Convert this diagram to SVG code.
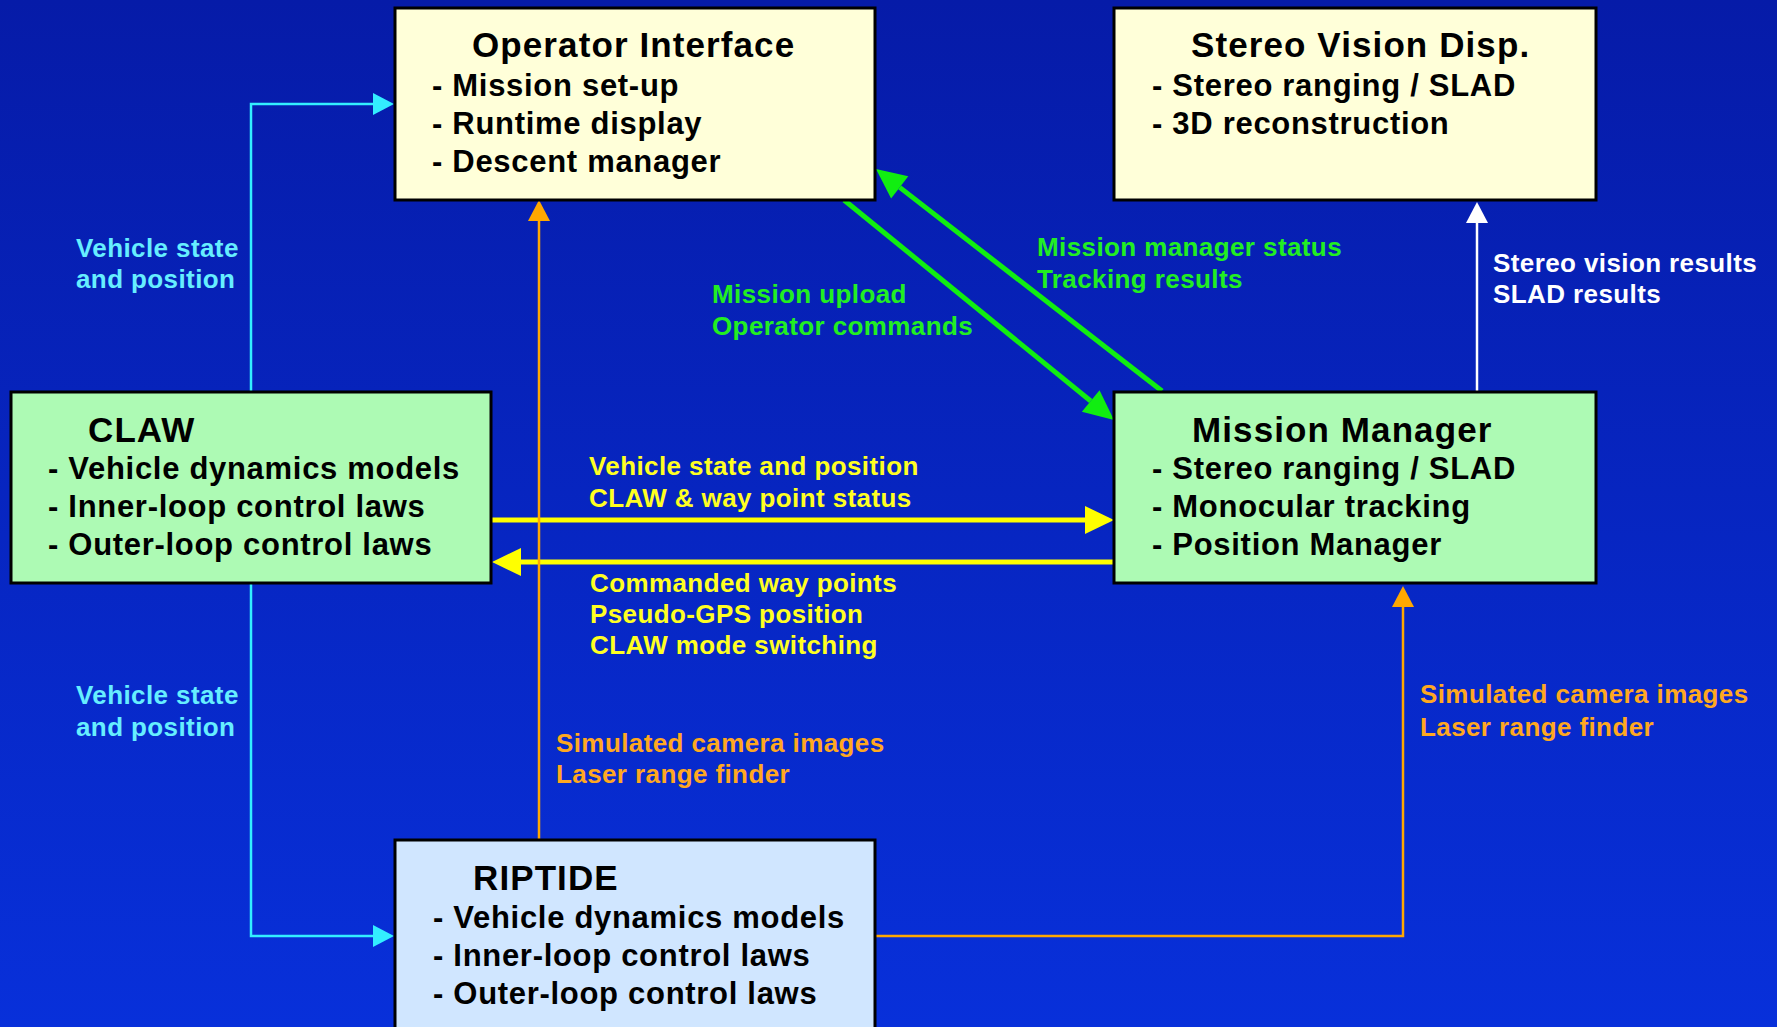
<svg xmlns="http://www.w3.org/2000/svg" width="1777" height="1027" viewBox="0 0 1777 1027">
<defs>
<linearGradient id="bg" x1="0" y1="0" x2="0" y2="1">
<stop offset="0" stop-color="#061BA8"/>
<stop offset="1" stop-color="#0830DA"/>
</linearGradient>
<marker id="mY" markerUnits="userSpaceOnUse" markerWidth="32" markerHeight="32" refX="0" refY="0" orient="auto" overflow="visible"><path d="M0,-14 L29,0 L0,14 z" fill="#FFFF00"/></marker>
<marker id="mG" markerUnits="userSpaceOnUse" markerWidth="32" markerHeight="32" refX="0" refY="0" orient="auto" overflow="visible"><path d="M0,-14 L30,0 L0,14 z" fill="#11EE11"/></marker>
<marker id="mC" markerUnits="userSpaceOnUse" markerWidth="24" markerHeight="24" refX="0" refY="0" orient="auto" overflow="visible"><path d="M0,-11 L21,0 L0,11 z" fill="#33EEFF"/></marker>
<marker id="mO" markerUnits="userSpaceOnUse" markerWidth="24" markerHeight="24" refX="0" refY="0" orient="auto" overflow="visible"><path d="M0,-11 L21,0 L0,11 z" fill="#FFA800"/></marker>
<marker id="mW" markerUnits="userSpaceOnUse" markerWidth="24" markerHeight="24" refX="0" refY="0" orient="auto" overflow="visible"><path d="M0,-11 L21,0 L0,11 z" fill="#FFFFFF"/></marker>
</defs>
<style>
text{font-family:"Liberation Sans",Arial,Helvetica,sans-serif;font-weight:bold}
.box{stroke:#000;stroke-width:3}
.cream{fill:#FFFFD9}
.green{fill:#ADFAB4}
.blue{fill:#D0E6FF}
.title{font-size:35px;letter-spacing:1.1px;fill:#000}
.item{font-size:31px;letter-spacing:0.7px;fill:#000}
.lbl{font-size:26px;letter-spacing:0.4px}
.lc{fill:#66EEFF}
.ly{fill:#FFFF22}
.lg{fill:#22EE22}
.lo{fill:#FFA820}
.lw{fill:#FFFFFF}
.cc{fill:none;stroke:#33EEFF;stroke-width:2.5}
.cy{fill:none;stroke:#FFFF00;stroke-width:5}
.cg{fill:none;stroke:#11EE11;stroke-width:5}
.co{fill:none;stroke:#FFA800;stroke-width:2.5}
.cw{fill:none;stroke:#FFFFFF;stroke-width:2.5}
</style>
<rect x="0" y="0" width="1777" height="1027" fill="url(#bg)"/>

<g id="connectors">
<path class="cc" d="M251,392 V104 H373" marker-end="url(#mC)"/>
<path class="cc" d="M251,583 V936 H373" marker-end="url(#mC)"/>
<path class="cy" d="M491,520 H1085" marker-end="url(#mY)"/>
<path class="cy" d="M1114,562 H521" marker-end="url(#mY)"/>
<path class="co" d="M539,840 V221" marker-end="url(#mO)"/>
<path class="co" d="M875,936 H1403 V607" marker-end="url(#mO)"/>
<path class="cw" d="M1477,392 V223" marker-end="url(#mW)"/>
<path class="cg" d="M844,200 L1090.7,401" marker-end="url(#mG)"/>
<path class="cg" d="M1162,391 L899.7,187.4" marker-end="url(#mG)"/>

<text class="lbl lc" x="76" y="257">Vehicle state</text>
<text class="lbl lc" x="76" y="288">and position</text>
<text class="lbl lc" x="76" y="704">Vehicle state</text>
<text class="lbl lc" x="76" y="736">and position</text>
<text class="lbl ly" x="589" y="475">Vehicle state and position</text>
<text class="lbl ly" x="589" y="507">CLAW &amp; way point status</text>
<text class="lbl ly" x="590" y="592">Commanded way points</text>
<text class="lbl ly" x="590" y="623">Pseudo-GPS position</text>
<text class="lbl ly" x="590" y="654">CLAW mode switching</text>
<text class="lbl lg" x="712" y="303">Mission upload</text>
<text class="lbl lg" x="712" y="335">Operator commands</text>
<text class="lbl lg" x="1037" y="256">Mission manager status</text>
<text class="lbl lg" x="1037" y="288">Tracking results</text>
<text class="lbl lw" x="1493" y="272">Stereo vision results</text>
<text class="lbl lw" x="1493" y="303">SLAD results</text>
<text class="lbl lo" x="556" y="752">Simulated camera images</text>
<text class="lbl lo" x="556" y="783">Laser range finder</text>
<text class="lbl lo" x="1420" y="703">Simulated camera images</text>
<text class="lbl lo" x="1420" y="736">Laser range finder</text>
</g>

<g id="operator-interface">
<rect class="box cream" x="395" y="8" width="480" height="192"/>
<text class="title" x="472" y="57">Operator Interface</text>
<text class="item" x="432" y="96">- Mission set-up</text>
<text class="item" x="432" y="134">- Runtime display</text>
<text class="item" x="432" y="172">- Descent manager</text>
</g>

<g id="stereo-vision">
<rect class="box cream" x="1114" y="8" width="482" height="192"/>
<text class="title" x="1191" y="57">Stereo Vision Disp.</text>
<text class="item" x="1152" y="96">- Stereo ranging / SLAD</text>
<text class="item" x="1152" y="134">- 3D reconstruction</text>
</g>

<g id="claw">
<rect class="box green" x="11" y="392" width="480" height="191"/>
<text class="title" x="88" y="442">CLAW</text>
<text class="item" x="48" y="479">- Vehicle dynamics models</text>
<text class="item" x="48" y="517">- Inner-loop control laws</text>
<text class="item" x="48" y="555">- Outer-loop control laws</text>
</g>

<g id="mission-manager">
<rect class="box green" x="1114" y="392" width="482" height="191"/>
<text class="title" x="1192" y="442">Mission Manager</text>
<text class="item" x="1152" y="479">- Stereo ranging / SLAD</text>
<text class="item" x="1152" y="517">- Monocular tracking</text>
<text class="item" x="1152" y="555">- Position Manager</text>
</g>

<g id="riptide">
<rect class="box blue" x="395" y="840" width="480" height="200"/>
<text class="title" x="473" y="890">RIPTIDE</text>
<text class="item" x="433" y="928">- Vehicle dynamics models</text>
<text class="item" x="433" y="966">- Inner-loop control laws</text>
<text class="item" x="433" y="1004">- Outer-loop control laws</text>
</g>
</svg>
